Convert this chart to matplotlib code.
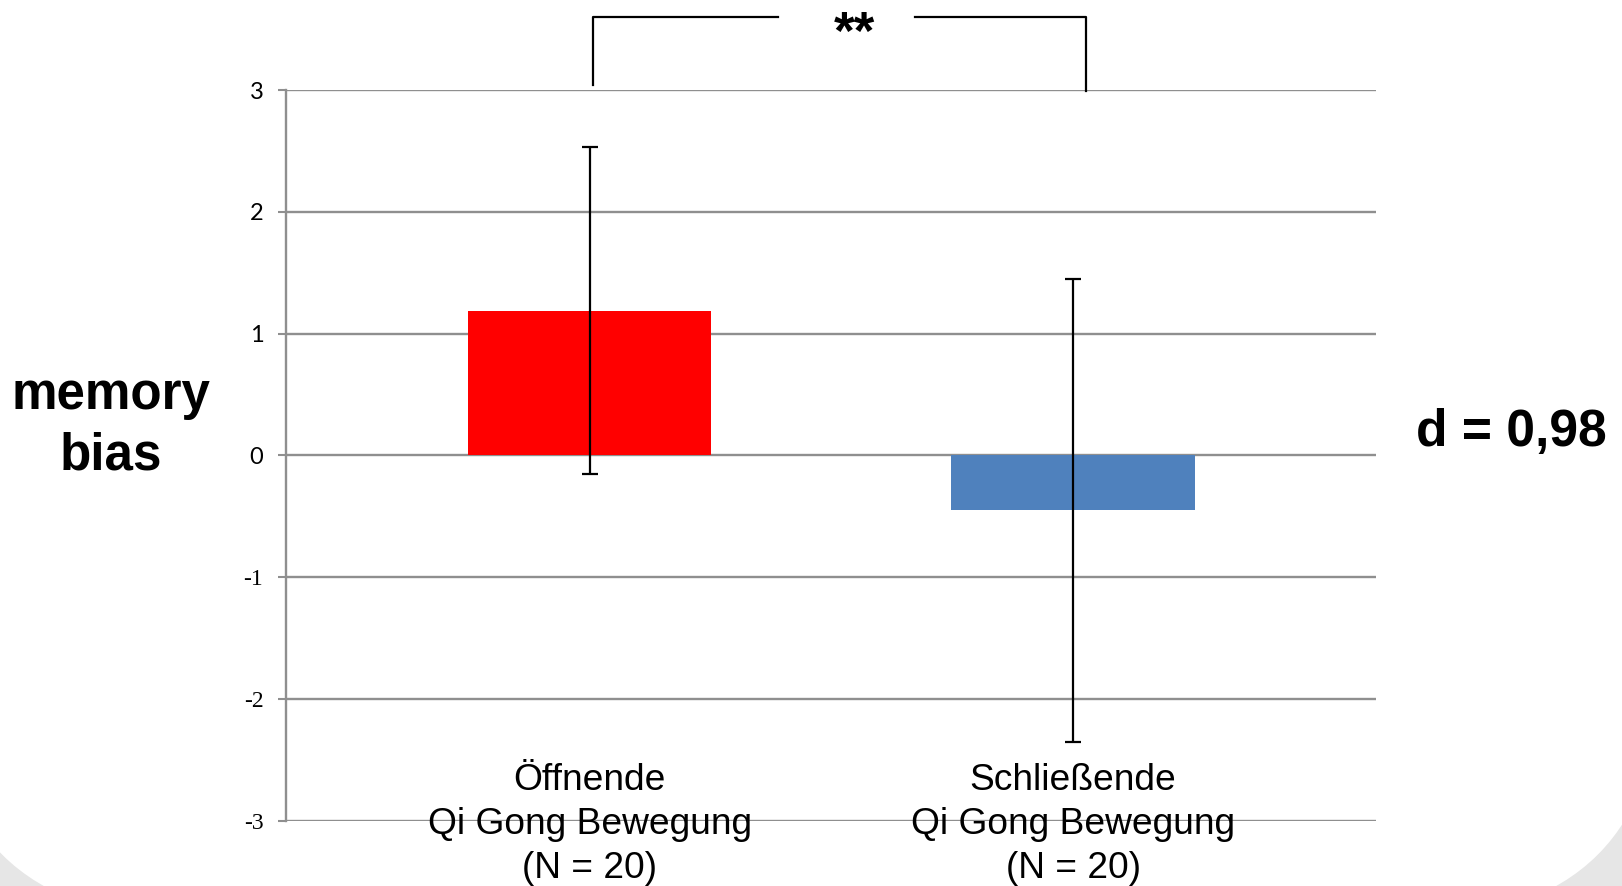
import matplotlib.pyplot as plt
from matplotlib.patches import FancyBboxPatch

# Data
categories = ['Öffnende\nQi Gong Bewegung\n(N = 20)', 'Schließende\nQi Gong Bewegung\n(N = 20)']
means = [1.19, -0.45]
errors = [1.34, 1.90]
colors = ['#ff0000', '#4f81bd']
yticks = [-3, -2, -1, 0, 1, 2, 3]

GRID = '#8f8f8f'

fig = plt.figure(figsize=(16.22, 8.86), dpi=100)
fig.patch.set_facecolor('#e6e6e6')

# white rounded slide area (pixel coords), gray shows in the bottom corners
slide = FancyBboxPatch((-62, -33), 1724, 1300,
                       boxstyle='round,pad=0,rounding_size=257',
                       transform=None, facecolor='white', edgecolor='none', zorder=-5)
fig.add_artist(slide)

ax = fig.add_axes([0.1763, 0.0734, 0.8483 - 0.1763, 0.8984 - 0.0734])
ax.set_facecolor('none')

x = list(range(len(categories)))
ax.bar(x, means, width=0.503, color=colors, zorder=2)
ax.errorbar(x, means, yerr=errors, fmt='none', ecolor='black', elinewidth=1.6,
            capsize=5.8, capthick=1.6, zorder=3)

ax.set_xlim(-0.629, 1.627)
ax.set_ylim(-3, 3)
ax.set_yticks(yticks)
ax.set_yticklabels([str(t) for t in yticks])
for lab, t in zip(ax.get_yticklabels(), yticks):
    lab.set_fontfamily('Liberation Serif' if t < 0 else 'Lato')
    lab.set_fontsize(17)
ax.tick_params(axis='y', length=5.8, width=1.5, color=GRID, pad=10.5)
ax.set_xticks([])

for s in ['top', 'right', 'bottom']:
    ax.spines[s].set_visible(False)
ax.spines['left'].set_color(GRID)
ax.spines['left'].set_linewidth(1.7)
for t in yticks:
    ax.axhline(t, color=GRID, linewidth=1.7, zorder=1)

# category labels sit on the lower part of the plot
for xi, lab in zip(x, categories):
    ax.text(xi, -3.03, lab, ha='center', va='center', fontsize=26.7,
            family='Liberation Sans', linespacing=1.34, clip_on=False, zorder=4)

# significance bracket
ax.plot([0.006, 0.006, 0.389], [3.04, 3.60, 3.60], color='black', lw=1.6, clip_on=False)
ax.plot([0.673, 1.027, 1.027], [3.60, 3.60, 2.99], color='black', lw=1.6, clip_on=False)
fig.text(854 / 1622, 1 - 49 / 886, '**', ha='center', va='baseline', fontsize=38,
         fontweight='bold', family='Liberation Sans')

fig.text(111 / 1622, 1 - 426 / 886, 'memory\nbias', ha='center', va='center', fontsize=36.8,
         fontweight='bold', family='Liberation Sans', linespacing=1.31)
fig.text(1511 / 1622, 1 - 433 / 886, 'd = 0,98', ha='center', va='center', fontsize=37.2,
         fontweight='bold', family='Liberation Sans')

fig.savefig('out.png', dpi=100)
